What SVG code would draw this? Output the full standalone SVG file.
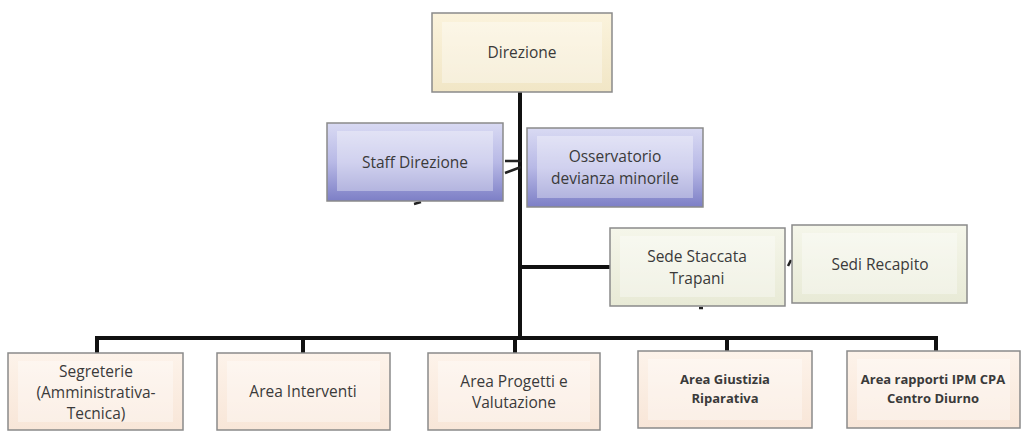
<svg xmlns="http://www.w3.org/2000/svg" width="1029" height="431" viewBox="0 0 1029 431">
<defs>
<linearGradient id="gCream" x1="0" y1="0" x2="0" y2="1"><stop offset="0" stop-color="#fbf3dc"/><stop offset="1" stop-color="#f1e6c6"/></linearGradient>
<linearGradient id="gBlue" x1="0" y1="0" x2="0" y2="1"><stop offset="0" stop-color="#d9daf3"/><stop offset="0.5" stop-color="#b8b9e6"/><stop offset="1" stop-color="#7d7fc6"/></linearGradient>
<linearGradient id="gGreen" x1="0" y1="0" x2="0" y2="1"><stop offset="0" stop-color="#f5f6ea"/><stop offset="1" stop-color="#e8ead6"/></linearGradient>
<linearGradient id="gPeach" x1="0" y1="0" x2="0" y2="1"><stop offset="0" stop-color="#fdf3ea"/><stop offset="1" stop-color="#f8e6d8"/></linearGradient>
</defs>
<style>
.box{stroke:#8a8a8a;stroke-width:1.5}
.inner{fill:#ffffff;opacity:0.35}
.t{font-family:"Open Sans","Liberation Sans",sans-serif;font-size:15.5px;fill:#3a3a3a;text-anchor:middle}
.tb{font-family:"Open Sans","Liberation Sans",sans-serif;font-size:13px;font-weight:bold;fill:#3a3a3a;text-anchor:middle}
.c{stroke:#111;stroke-width:4;fill:none}
.m{stroke:#222;stroke-width:2.5;fill:none}
</style>
<g id="connectors">
<path class="c" d="M520 92 V340"/>
<path class="c" d="M97 338 H937"/>
<path class="c" d="M97 336 V353 M303 336 V353 M515 336 V353 M727 336 V351 M936 336 V351"/>
<path class="c" d="M520 267 H610"/>
<path class="m" d="M505 161 H521 M505 173 L521 167"/>
<path class="m" d="M414 204 L421 202"/>
<path class="m" d="M788 266 L791 260"/>
<path class="m" d="M699 308 L703 308"/>
</g>
<g id="n-direzione">
<rect class="box" x="432" y="13" width="180" height="79" fill="url(#gCream)"/>
<rect class="inner" x="442" y="22" width="160" height="61"/>
<text class="t" x="522" y="58">Direzione</text>
</g>
<g id="n-staff">
<rect class="box" x="327" y="123" width="176" height="78" fill="url(#gBlue)"/>
<rect class="inner" x="337" y="131" width="156" height="60"/>
<text class="t" x="415" y="168">Staff Direzione</text>
</g>
<g id="n-osservatorio">
<rect class="box" x="527" y="128" width="176" height="79" fill="url(#gBlue)"/>
<rect class="inner" x="537" y="136" width="156" height="62"/>
<text class="t" x="615" y="162">Osservatorio</text>
<text class="t" x="615" y="184">devianza minorile</text>
</g>
<g id="n-sede">
<rect class="box" x="610" y="228" width="175" height="78" fill="url(#gGreen)"/>
<rect class="inner" x="620" y="236" width="155" height="61"/>
<text class="t" x="697" y="262">Sede Staccata</text>
<text class="t" x="697" y="284">Trapani</text>
</g>
<g id="n-recapito">
<rect class="box" x="792" y="225" width="175" height="78" fill="url(#gGreen)"/>
<rect class="inner" x="802" y="233" width="155" height="61"/>
<text class="t" x="880" y="270">Sedi Recapito</text>
</g>
<g id="n-segreterie">
<rect class="box" x="8" y="353" width="175" height="77" fill="url(#gPeach)"/>
<rect class="inner" x="18" y="361" width="155" height="61"/>
<text class="t" x="96" y="377">Segreterie</text>
<text class="t" x="96" y="398">(Amministrativa-</text>
<text class="t" x="96" y="419">Tecnica)</text>
</g>
<g id="n-interventi">
<rect class="box" x="217" y="353" width="173" height="77" fill="url(#gPeach)"/>
<rect class="inner" x="227" y="361" width="153" height="61"/>
<text class="t" x="303" y="397">Area  Interventi</text>
</g>
<g id="n-progetti">
<rect class="box" x="428" y="353" width="172" height="77" fill="url(#gPeach)"/>
<rect class="inner" x="438" y="361" width="152" height="61"/>
<text class="t" x="514" y="387">Area Progetti e</text>
<text class="t" x="514" y="408">Valutazione</text>
</g>
<g id="n-giustizia">
<rect class="box" x="638" y="351" width="174" height="77" fill="url(#gPeach)"/>
<rect class="inner" x="648" y="359" width="154" height="61"/>
<text class="tb" x="725" y="384">Area Giustizia</text>
<text class="tb" x="725" y="403">Riparativa</text>
</g>
<g id="n-rapporti">
<rect class="box" x="847" y="351" width="173" height="77" fill="url(#gPeach)"/>
<rect class="inner" x="857" y="359" width="153" height="61"/>
<text class="tb" x="933" y="384">Area rapporti IPM  CPA</text>
<text class="tb" x="933" y="403">Centro Diurno</text>
</g>
</svg>
